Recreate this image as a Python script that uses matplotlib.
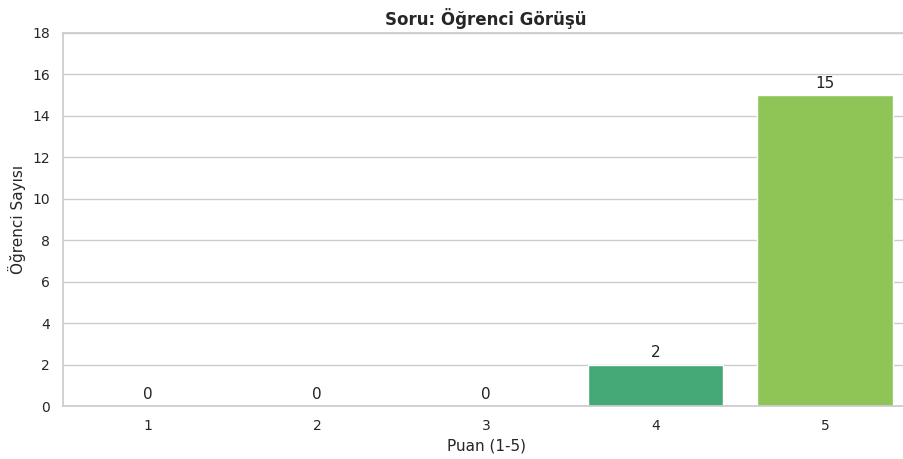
import matplotlib
matplotlib.use("Agg")
import matplotlib.pyplot as plt
import seaborn as sns

puan = ["1", "2", "3", "4", "5"]
ogrenci_sayisi = [0, 0, 0, 2, 15]
renkler = ["#d9534f", "#f0ad4e", "#f5d547", "#45a877", "#8fc457"]

sns.set_theme(style="whitegrid")
plt.rcParams['font.family'] = ['DejaVu Sans']

fig = plt.figure(figsize=(9.04, 4.59), dpi=100)
# the right part of the axes runs past the picture edge, as in the reference
ax = fig.add_axes([63 / 904, 1 - 406 / 459, 846.5 / 904, (406 - 33) / 459])

x = range(len(puan))
bars = ax.bar(x, ogrenci_sayisi, width=0.8, color=renkler)
for b, v in zip(bars, ogrenci_sayisi):
    ax.text(b.get_x() + b.get_width() / 2, v + 0.2, str(v),
            ha='center', va='bottom', fontsize=11, color='#222222')

ax.set_xticks(list(x))
ax.set_xticklabels(puan)
ax.set_xlim(-0.5, 4.5)
ax.set_ylim(0, 18)
ax.set_yticks(range(0, 19, 2))
ax.grid(False, axis='x')
ax.tick_params(labelsize=10)
ax.set_xlabel("Puan (1-5)", fontsize=11)
ax.set_ylabel("Öğrenci Sayısı", fontsize=11)
ax.set_title("Soru: Öğrenci Görüşü", fontsize=12, fontweight='bold', pad=6)

fig.savefig("out.png", dpi=100)
